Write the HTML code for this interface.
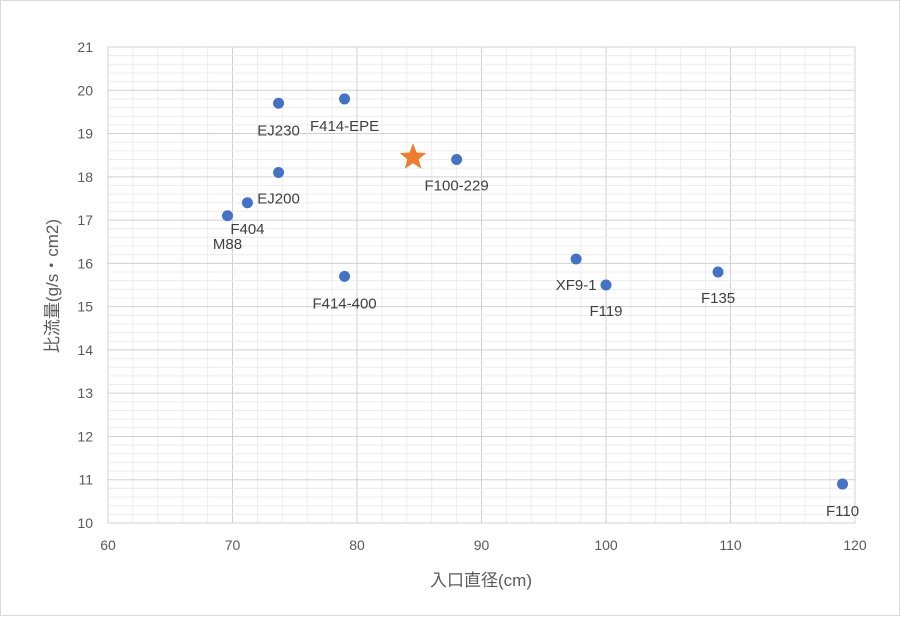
<!DOCTYPE html>
<html><head><meta charset="utf-8"><style>
body{margin:0;background:#fff;}
svg text{font-family:"Liberation Sans","Noto Sans CJK JP",sans-serif;}
</style></head><body>
<svg id="chart" width="900" height="616" xmlns="http://www.w3.org/2000/svg">
<rect x="0.5" y="0.5" width="899" height="615" fill="#fff" stroke="#d9d9d9"/>
<g id="grid"></g><g id="axes"></g><g id="marks"></g>
<text x="481" y="586" font-size="17" fill="#595959" text-anchor="middle">入口直径(cm)</text>
<text transform="translate(58,286) rotate(-90)" font-size="17" fill="#595959" text-anchor="middle">比流量(g/s・cm2)</text>
</svg>
<script>
const names=["EJ230","F414-EPE","EJ200","F404","M88","F100-229","F414-400","XF9-1","F119","F135","F110"];
const xs=[73.7,79,73.7,71.2,69.6,88,79,97.6,100,109,119];
const ys=[19.7,19.8,18.1,17.4,17.1,18.4,15.7,16.1,15.5,15.8,10.9];
const labelDx=[0,0,0,0,0,0,0,0,0,0,0];
const labelDy=[32,32,31,31,33,31,32,31,31,31,32];
const starX=[84.5], starY=[18.45];
const xTicks=[60,70,80,90,100,110,120];
const yTicks=[10,11,12,13,14,15,16,17,18,19,20,21];
const NS="http://www.w3.org/2000/svg";
const X0=108,X1=855,Y0=523,Y1=47;
const sx=v=>X0+(v-60)/60*(X1-X0);
const sy=v=>Y0-(v-10)/11*(Y0-Y1);
function mk(tag,attrs,parent){const e=document.createElementNS(NS,tag);for(const k in attrs)e.setAttribute(k,attrs[k]);document.getElementById(parent).appendChild(e);return e;}
for(let v=60;v<=120;v+=2){const major=v%10===0;
 const l=mk('line',{x1:sx(v),x2:sx(v),y1:Y1,y2:Y0,stroke:major?'#d0d0d0':'#ececec','stroke-width':1},'grid');
 
 }
for(let i=0;i<=55;i++){const v=10+i*0.2;const major=i%5===0;
 const l=mk('line',{x1:X0,x2:X1,y1:sy(v),y2:sy(v),stroke:major?'#d0d0d0':'#ececec','stroke-width':1},'grid');
 
 }
xTicks.forEach(v=>{const t=mk('text',{x:sx(v),y:Y0+27,'font-size':14,fill:'#595959','text-anchor':'middle'},'axes');t.textContent=v;
 
 });
yTicks.forEach(v=>{const t=mk('text',{x:X0-15,y:sy(v)+5,'font-size':14,fill:'#595959','text-anchor':'end'},'axes');t.textContent=v;
 
 });
names.forEach((n,i)=>{const c=mk('circle',{cx:sx(xs[i]),cy:sy(ys[i]),r:5.5,fill:'#4472c4'},'marks');
 
 
 const t=mk('text',{x:sx(xs[i])+labelDx[i],y:sy(ys[i])+labelDy[i],'font-size':15,fill:'#404040','text-anchor':'middle'},'marks');t.textContent=n;
 
 });
starX.forEach((v,i)=>{const cx=sx(v),cy=sy(starY[i]);let p=[];for(let k=0;k<10;k++){const r=k%2?6:14;const a=-Math.PI/2+k*Math.PI/5;p.push((cx+r*Math.cos(a)).toFixed(1)+','+(cy+r*Math.sin(a)).toFixed(1));}
 const s=mk('polygon',{points:p.join(' '),fill:'#ed7d31'},'marks');
 
 });
</script>
</body></html>
